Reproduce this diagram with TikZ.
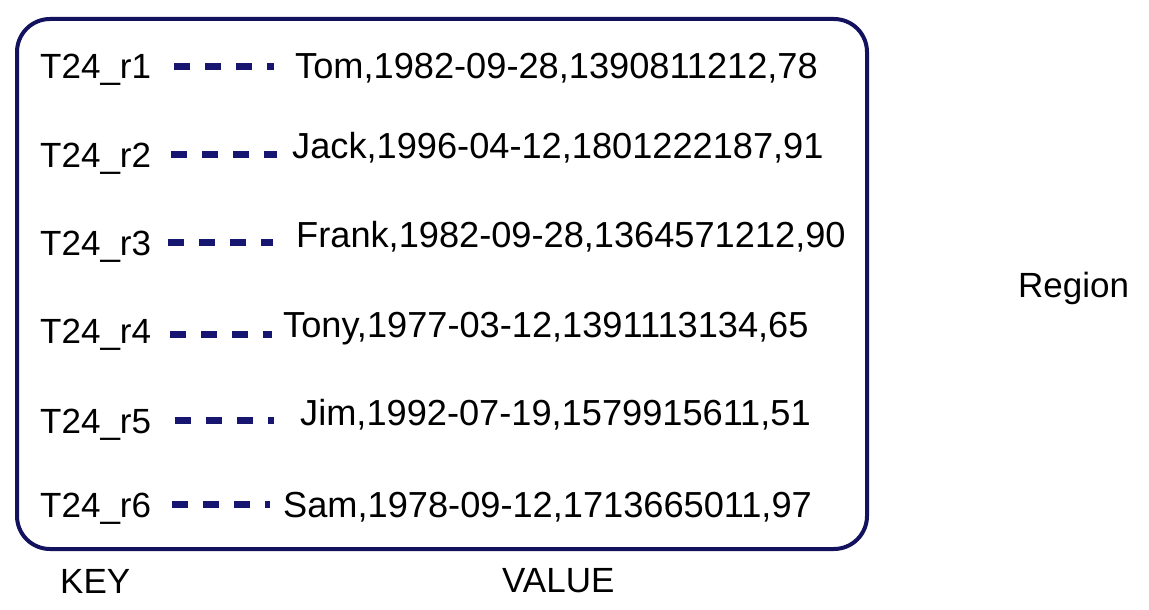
\documentclass[tikz,border=0pt]{standalone}
\usepackage{fontspec}
\setmainfont{Liberation Sans}
\definecolor{navy}{RGB}{22,22,112}
\definecolor{boxnavy}{RGB}{18,18,95}
\begin{document}
\begin{tikzpicture}[x=1pt,y=-1pt,
  txt/.style={inner sep=0pt, anchor=base west, font=\fontsize{35}{40}\selectfont, text height=25pt, text depth=0pt},
  keytxt/.style={txt},
  valtxt/.style={txt, font=\fontsize{36.2}{40}\selectfont},
  dashl/.style={draw=navy, line width=7pt, dash pattern=on 16pt off 15pt}]
\useasboundingbox (0,0) rectangle (1149,610);
\fill[white] (0,0) rectangle (1149,610);
\draw[boxnavy, line width=4pt, rounded corners=33pt] (17,19) rectangle (867,549);

\node[keytxt] (k1) at (40,79) {T24\_r1};
\node[keytxt] (k2) at (40,167) {T24\_r2};
\node[keytxt] (k3) at (40,255) {T24\_r3};
\node[keytxt] (k4) at (40,343) {T24\_r4};
\node[keytxt] (k5) at (40,433) {T24\_r5};
\node[keytxt] (k6) at (40,517) {T24\_r6};

\node[valtxt] (v1) at (295,79) {Tom,1982-09-28,1390811212,78};
\node[valtxt] (v2) at (292,158) {Jack,1996-04-12,1801222187,91};
\node[valtxt] (v3) at (296,247) {Frank,1982-09-28,1364571212,90};
\node[valtxt] (v4) at (283,337) {Tony,1977-03-12,1391113134,65};
\node[valtxt] (v5) at (300,425) {Jim,1992-07-19,1579915611,51};
\node[valtxt] (v6) at (283,517) {Sam,1978-09-12,1713665011,97};

\path[dashl, shorten <=23pt, shorten >=21pt] (k1.east) -- (k1.east -| v1.west);
\path[dashl, shorten <=20pt, shorten >=15pt] (k2.east) -- (k2.east -| v2.west);
\path[dashl, shorten <=17pt, shorten >=23pt] (k3.east) -- (k3.east -| v3.west);
\path[dashl, shorten <=19pt, shorten >=11pt] ([yshift=-4pt]k4.east) -- ([yshift=-4pt]k4.east -| v4.west);
\path[dashl, shorten <=24pt, shorten >=26pt] (k5.east) -- (k5.east -| v5.west);
\path[dashl, shorten <=21pt, shorten >=13pt] (k6.east) -- (k6.east -| v6.west);

\node[keytxt] (keylbl) at (60,593) {KEY};
\node[keytxt] (vallbl) at (502,592) {VALUE};
\node[keytxt] (region) at (1018,297) {Region};
\end{tikzpicture}
\end{document}
